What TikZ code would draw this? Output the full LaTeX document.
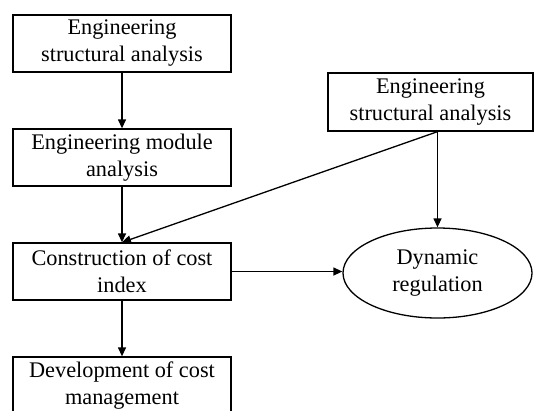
\documentclass[tikz,border=0pt]{standalone}
\usepackage{fontspec}
\setmainfont{Liberation Serif}
\usetikzlibrary{arrows.meta,shapes.geometric}
\begin{document}
\begin{tikzpicture}
[x=1pt,y=-1pt,line width=1.3pt,
 stagebox/.style={draw,rectangle,minimum width=218pt,minimum height=57pt,
   inner sep=0pt,align=center,font=\fontsize{22.3}{27}\selectfont},
 goal/.style={draw,ellipse,minimum width=189pt,minimum height=90pt,
   inner sep=0pt,align=center,font=\fontsize{22.3}{27}\selectfont},
 flow/.style={-{Triangle[length=9pt,width=8pt]}}]
  \useasboundingbox (0,0) rectangle (534,410);

  % left column
  \node[stagebox] (structure) at (122,43.5) {Engineering\\structural analysis};
  \node[stagebox] (module) at (122,157.5) {Engineering module\\analysis};
  \node[stagebox] (index) at (122,271.5) {Construction of cost\\index};
  \node[stagebox] (develop) at (122,385.5) {Development of cost\\management};

  % right side
  \node[stagebox,minimum width=205pt,minimum height=58pt] (rstructure) at (430.5,102) {Engineering\\structural analysis};
  \node[goal] (regulation) at (437.5,273) {Dynamic\\regulation};
  \coordinate (split) at (regulation.north |- rstructure.south);

  \draw[flow] (structure) -- (module);
  \draw[flow] (module) -- (index);
  \draw[flow] (index) -- (develop);
  \draw[flow] (split) -- (index.north);
  \draw[flow] (split) -- (regulation);
  \draw[flow] (index.east) -- (index.east -| regulation.west);
\end{tikzpicture}
\end{document}
